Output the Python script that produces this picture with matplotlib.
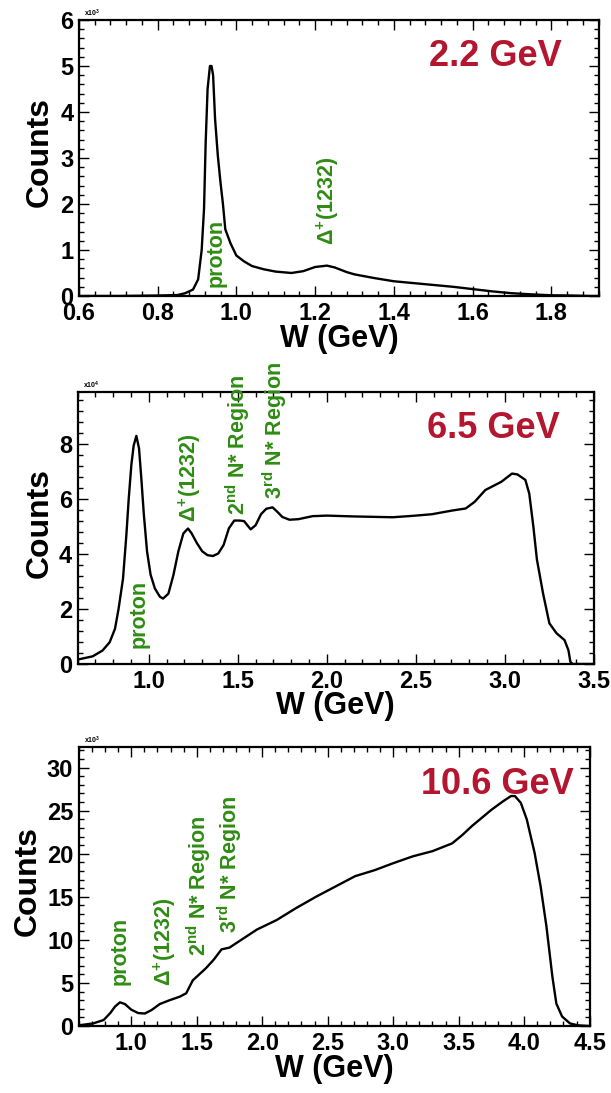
import matplotlib
matplotlib.use("Agg")
import matplotlib.pyplot as plt
from matplotlib.ticker import MultipleLocator, FormatStrFormatter

plt.rcParams["font.family"] = ["Liberation Sans", "DejaVu Sans"]
plt.rcParams["font.weight"] = "bold"
plt.rcParams["mathtext.fontset"] = "custom"
plt.rcParams["mathtext.rm"] = "Liberation Sans:bold"
plt.rcParams["mathtext.bf"] = "Liberation Sans:bold"
plt.rcParams["mathtext.it"] = "Liberation Sans:bold"

# ---------------- data (counts in units of the axis multiplier) ----------------
w_22 = [0.60, 0.70, 0.80, 0.85, 0.87, 0.89, 0.903, 0.912, 0.918, 0.922, 0.927,
        0.933, 0.937, 0.941, 0.946, 0.953, 0.960, 0.966, 0.972, 0.985, 1.00,
        1.02, 1.04, 1.07, 1.10, 1.14, 1.17, 1.20, 1.23, 1.25, 1.28, 1.30, 1.35,
        1.40, 1.45, 1.50, 1.55, 1.60, 1.65, 1.70, 1.75, 1.80, 1.85, 1.90, 1.92]
c_22 = [0.00, 0.00, 0.01, 0.02, 0.06, 0.14, 0.36, 1.00, 1.90, 3.30, 4.50,
        5.00, 5.00, 4.80, 3.85, 3.05, 2.45, 2.00, 1.45, 1.15, 0.88,
        0.75, 0.65, 0.58, 0.53, 0.50, 0.54, 0.63, 0.66, 0.62, 0.52, 0.47, 0.39,
        0.32, 0.28, 0.24, 0.20, 0.15, 0.10, 0.06, 0.035, 0.015, 0.01, 0.00, 0.00]

w_65 = [0.60, 0.685, 0.74, 0.78, 0.81, 0.83, 0.855, 0.874, 0.887, 0.902, 0.915,
        0.93, 0.945, 0.958, 0.972, 0.99, 1.01, 1.034, 1.062, 1.08, 1.11, 1.138,
        1.166, 1.194, 1.22, 1.24, 1.27, 1.30, 1.33, 1.36, 1.39, 1.42, 1.45, 1.48,
        1.51, 1.535, 1.572, 1.60, 1.63, 1.66, 1.695, 1.72, 1.75, 1.79, 1.84,
        1.92, 2.00, 2.15, 2.37, 2.48, 2.59, 2.70, 2.78, 2.83, 2.89, 2.98, 3.04,
        3.07, 3.115, 3.137, 3.16, 3.18, 3.215, 3.25, 3.29, 3.335, 3.357, 3.368,
        3.38, 3.50]
c_65 = [0.16, 0.28, 0.49, 0.79, 1.28, 2.00, 3.10, 4.70, 6.00, 7.25, 7.95,
        8.30, 7.85, 6.75, 5.45, 4.10, 3.25, 2.75, 2.45, 2.38, 2.56, 3.23,
        4.10, 4.75, 4.93, 4.76, 4.40, 4.10, 3.96, 3.93, 4.02, 4.33, 4.94, 5.22,
        5.22, 5.20, 4.90, 5.05, 5.45, 5.65, 5.70, 5.55, 5.35, 5.25, 5.27,
        5.38, 5.40, 5.37, 5.34, 5.39, 5.45, 5.58, 5.66, 5.90, 6.33, 6.63, 6.93,
        6.90, 6.70, 6.20, 5.00, 3.80, 2.55, 1.48, 1.12, 0.87, 0.50, 0.08,
        0.00, 0.00]

w_106 = [0.61, 0.71, 0.79, 0.84, 0.876, 0.914, 0.952, 1.00, 1.053, 1.104, 1.155,
         1.218, 1.294, 1.37, 1.42, 1.47, 1.52, 1.57, 1.63, 1.69, 1.75, 1.81,
         1.96, 2.11, 2.26, 2.41, 2.56, 2.71, 2.86, 3.00, 3.15, 3.30, 3.45, 3.53,
         3.60, 3.75, 3.84, 3.90, 3.93, 3.975, 4.02, 4.08, 4.126, 4.17, 4.216,
         4.246, 4.29, 4.35, 4.41, 4.50]
c_106 = [0.1, 0.3, 0.7, 1.5, 2.25, 2.75, 2.55, 1.9, 1.5, 1.45, 1.85,
         2.55, 3.0, 3.4, 3.8, 5.3, 6.0, 6.7, 7.7, 8.9, 9.1, 9.7,
         11.2, 12.3, 13.7, 15.0, 16.2, 17.4, 18.1, 18.9, 19.7, 20.3, 21.2, 22.2,
         23.2, 25.1, 26.1, 26.7, 26.7, 25.9, 24.0, 20.1, 16.2, 11.6, 5.7,
         2.6, 1.1, 0.3, 0.08, 0.0]

# resonance labels: (text, W, counts at bottom of label)
labels_22 = [("proton", 0.949, 0.2), ("Δ$^{+}$(1232)", 1.231, 1.1)]
labels_65 = [("proton", 0.948, 0.57), ("Δ$^{+}$(1232)", 1.23, 5.17),
             ("2$^{nd}$ N* Region", 1.498, 5.42), ("3$^{rd}$ N* Region", 1.707, 6.02)]
labels_106 = [("proton", 0.914, 4.77), ("Δ$^{+}$(1232)", 1.253, 4.6),
              ("2$^{nd}$ N* Region", 1.512, 8.07), ("3$^{rd}$ N* Region", 1.752, 10.8)]

RED = "#b3162e"
GREEN = "#2f8c14"

panels = [
    # data, labels, rect, xlim, ylim, x major/minor, y major/minor, fmt, beam, pos, multiplier, ylabel x
    (w_22, c_22, labels_22, [0.129, 0.7292, 0.852, 0.2525], (0.6, 1.922), (0, 6),
     0.2, 0.04, 1, 0.2, "%.1f", "2.2 GeV", (0.80, 0.866), "x10$^{3}$", -0.076),
    (w_65, c_65, labels_65, [0.127, 0.3925, 0.845, 0.2489], (0.6, 3.5), (0, 9.9),
     0.5, 0.1, 2, 0.4, "%.1f", "6.5 GeV", (0.806, 0.867), "x10$^{4}$", -0.074),
    (w_106, c_106, labels_106, [0.129, 0.0613, 0.836, 0.2553], (0.6, 4.5), (0, 32.4),
     0.5, 0.1, 5, 1, "%.1f", "10.6 GeV", (0.819, 0.864), "x10$^{3}$", -0.10),
]

fig = plt.figure(figsize=(6.11, 10.93), dpi=100)

for (w, c, labs, rect, xlim, ylim, xmaj, xmin, ymaj, ymin, xfmt,
     beam, bpos, mult, ylx) in panels:
    ax = fig.add_axes(rect)
    ax.plot(w, c, color="black", lw=1.7)
    ax.set_xlim(*xlim)
    ax.set_ylim(*ylim)

    ax.xaxis.set_major_locator(MultipleLocator(xmaj))
    ax.xaxis.set_minor_locator(MultipleLocator(xmin))
    ax.yaxis.set_major_locator(MultipleLocator(ymaj))
    ax.yaxis.set_minor_locator(MultipleLocator(ymin))
    ax.xaxis.set_major_formatter(FormatStrFormatter(xfmt))
    ax.yaxis.set_major_formatter(FormatStrFormatter("%d"))

    ax.tick_params(which="both", direction="in", top=True, right=True,
                   width=1.0, labelsize=17)
    ax.tick_params(which="major", length=7, pad=4)
    ax.tick_params(which="minor", length=3.5)
    for lab in ax.get_xticklabels() + ax.get_yticklabels():
        lab.set_fontweight("bold")
    for sp in ax.spines.values():
        sp.set_linewidth(1.6)

    ax.set_xlabel("W (GeV)", fontsize=22, fontweight="bold", va="center")
    ax.set_ylabel("Counts", fontsize=23, fontweight="bold", va="center")
    ax.xaxis.set_label_coords(0.5, -0.155)
    ax.yaxis.set_label_coords(ylx, 0.52)

    ax.text(0.01, 1.004, mult, transform=ax.transAxes, fontsize=5,
            ha="left", va="bottom")

    ax.text(bpos[0], bpos[1], beam, transform=ax.transAxes, color=RED,
            fontsize=26, fontweight="bold", ha="center", va="center")

    for txt, x, y in labs:
        ax.text(x, y, txt, color=GREEN, fontsize=15.5, fontweight="bold",
                rotation=90, ha="center", va="bottom", clip_on=False)

fig.savefig("out.png", dpi=100)
